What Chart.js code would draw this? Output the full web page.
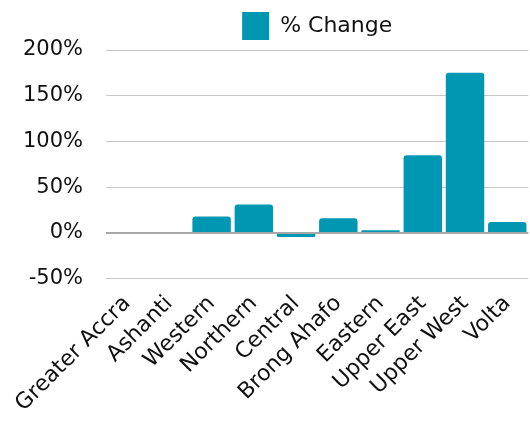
<!DOCTYPE html>
<html>
<head>
<meta charset="utf-8">
<script src="https://cdn.jsdelivr.net/npm/chart.js@4"></script>
<style>
  html, body { margin: 0; padding: 0; background: #fff; }
  #wrap { width: 530px; height: 421px; }
</style>
</head>
<body>
<div id="wrap"><canvas id="changeChart"></canvas></div>
<script>
// Regions and their % change
const regions = ["Greater Accra", "Ashanti", "Western", "Northern", "Central",
  "Brong Ahafo", "Eastern", "Upper East", "Upper West", "Volta"];
const pctChange = [0, 0, 18, 31, -4.5, 16, 3, 85, 175, 12];
const yTicks = [-50, 0, 50, 100, 150, 200];

const font = "'DejaVu Sans', sans-serif";

const ctx = document.getElementById("changeChart").getContext("2d");
new Chart(ctx, {
  type: "bar",
  data: {
    labels: regions,
    datasets: [
      {
        label: "% Change",
        data: pctChange,
        backgroundColor: "#0097B2",
        borderColor: "#0097B2",
        borderWidth: 0,
        borderRadius: 3,
        barPercentage: 0.91,
        categoryPercentage: 1,
      },
    ],
  },
  options: {
    responsive: true,
    maintainAspectRatio: false,
    animation: false,
    layout: { padding: { top: 4, right: 0, left: 0, bottom: 0 } },
    plugins: {
      legend: {
        position: "top",
        fullSize: false,
        labels: {
          boxWidth: 27,
          boxHeight: 28,
          padding: 8,
          color: "#111",
          font: { family: font, size: 22 },
        },
      },
      tooltip: { enabled: false },
    },
    scales: {
      x: {
        grid: { display: false },
        border: { display: false },
        ticks: {
          color: "#111",
          font: { family: font, size: 22 },
          maxRotation: 45,
          minRotation: 45,
          padding: 4,
        },
      },
      y: {
        min: yTicks[0],
        max: yTicks[yTicks.length - 1],
        afterBuildTicks: (axis) => {
          axis.ticks = yTicks.map((v) => ({ value: v }));
        },
        grid: {
          color: (c) => (c.tick && c.tick.value === 0 ? "#a8a8a8" : "#c8c8c8"),
          lineWidth: (c) => (c.tick && c.tick.value === 0 ? 2 : 1),
          drawTicks: false,
        },
        border: { display: false },
        ticks: {
          color: "#111",
          padding: 23,
          font: { family: font, size: 21 },
          callback: (v) => v + "%",
        },
      },
    },
  },
});
</script>
</body>
</html>
